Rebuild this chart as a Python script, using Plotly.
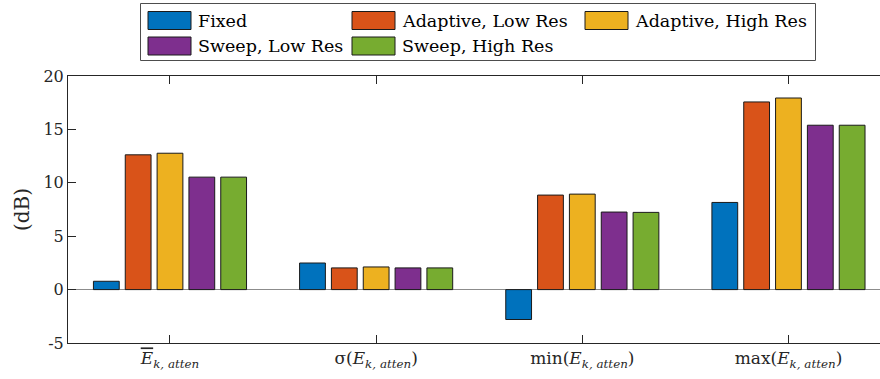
import plotly.graph_objects as go

# Attenuation statistics per method (dB)
categories = [
    '<span style="text-decoration:overline"><i>E</i></span><sub><i>k, atten</i></sub>',
    'σ(<i>E</i><sub><i>k, atten</i></sub>)',
    'min(<i>E</i><sub><i>k, atten</i></sub>)',
    'max(<i>E</i><sub><i>k, atten</i></sub>)',
]
series_names = ["Fixed", "Adaptive, Low Res", "Adaptive, High Res",
                "Sweep, Low Res", "Sweep, High Res"]
fixed = [0.78, 2.49, -2.80, 8.16]
adaptive_low = [12.62, 2.03, 8.85, 17.57]
adaptive_high = [12.77, 2.12, 8.94, 17.94]
sweep_low = [10.53, 2.03, 7.26, 15.39]
sweep_high = [10.53, 2.03, 7.23, 15.39]
series_values = [fixed, adaptive_low, adaptive_high, sweep_low, sweep_high]
colors = ["#0072BD", "#D95319", "#EDB120", "#7E2F8E", "#77AC30"]
y_ticks = [-5, 0, 5, 10, 15, 20]

W, H = 880, 379
L, R, T, B = 68, 0, 76, 36
plot_w = W - L - R
plot_h = H - T - B
FONT = "DejaVu Serif"
AX = "#262626"

xpos = list(range(len(categories)))

fig = go.Figure()
for name, vals, col in zip(series_names, series_values, colors):
    fig.add_trace(go.Bar(
        x=xpos, y=vals, name=name,
        marker=dict(color=col, line=dict(color="#1a1a1a", width=1)),
        showlegend=False,
    ))


def px_x(px):
    return (px - L) / plot_w


def px_y(py):
    return (H - B - py) / plot_h


# Legend box drawn in paper coordinates
shapes = [dict(type="rect", xref="paper", yref="paper",
               x0=px_x(140.5), x1=px_x(815.5), y0=px_y(60.5), y1=px_y(3.5),
               line=dict(color="#4d4d4d", width=1), fillcolor="white")]
annotations = []
col_x = [148, 352, 585]
row_y = [20.5, 46]
slots = [(0, 0), (0, 1), (0, 2), (1, 0), (1, 1)]
for (r, c), name, col in zip(slots, series_names, colors):
    x0 = col_x[c]
    yc = row_y[r]
    shapes.append(dict(type="rect", xref="paper", yref="paper",
                       x0=px_x(x0), x1=px_x(x0 + 43),
                       y0=px_y(yc + 9), y1=px_y(yc - 9),
                       line=dict(color="#1a1a1a", width=1), fillcolor=col))
    annotations.append(dict(xref="paper", yref="paper",
                            x=px_x(x0 + 48), y=px_y(yc), text=name,
                            showarrow=False, xanchor="left", yanchor="middle",
                            font=dict(family=FONT, size=17.5, color="black")))

fig.update_layout(
    width=W, height=H,
    margin=dict(l=L, r=R, t=T, b=B, pad=0),
    paper_bgcolor="white", plot_bgcolor="white",
    barmode="group", bargap=0.228, bargroupgap=0.19,
    font=dict(family=FONT, size=17, color=AX),
    shapes=shapes, annotations=annotations,
    showlegend=False,
)
fig.update_xaxes(
    range=[-0.4947, 3.444],
    tickmode="array", tickvals=xpos, ticktext=categories,
    ticks="inside", ticklen=8, tickcolor=AX, tickwidth=1,
    showline=True, linecolor=AX, linewidth=1, mirror="ticks",
    showgrid=False, zeroline=False,
    tickfont=dict(family=FONT, size=17, color=AX),
)
fig.update_yaxes(
    range=[-5, 20],
    tickmode="array", tickvals=y_ticks, ticktext=[str(v) for v in y_ticks],
    ticks="inside", ticklen=8, tickcolor=AX, tickwidth=1,
    showline=True, linecolor=AX, linewidth=1, mirror=False,
    showgrid=False,
    zeroline=True, zerolinecolor="#8c8c8c", zerolinewidth=1,
    tickfont=dict(family=FONT, size=16, color=AX),
    title=dict(text="(dB)", font=dict(family=FONT, size=20, color=AX), standoff=8),
)

fig.write_html("out.html")
